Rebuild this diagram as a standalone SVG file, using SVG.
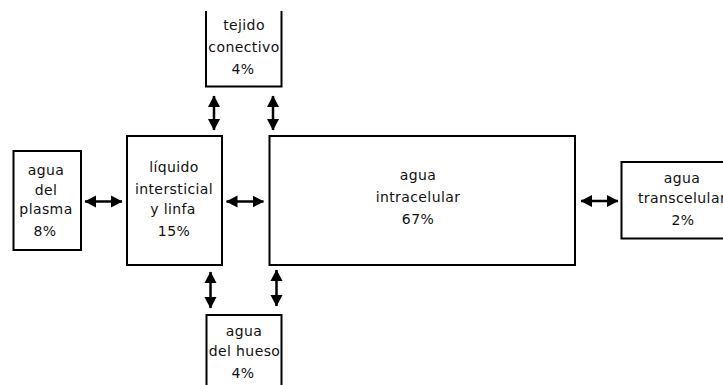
<svg xmlns="http://www.w3.org/2000/svg" width="723" height="385" viewBox="0 0 723 385">
<style>
.box{fill:#fff;stroke:#000;stroke-width:2}
.lbl{font-family:"DejaVu Sans",Verdana,sans-serif;font-size:14px;letter-spacing:0.4px;fill:#111;text-anchor:middle}
.arr{stroke:#000;stroke-width:2.5;fill:none;marker-start:url(#ah);marker-end:url(#ah)}
</style>
<defs>
<marker id="ah" markerUnits="userSpaceOnUse" markerWidth="12" markerHeight="13" viewBox="0 0 12 13" refX="11" refY="6.5" orient="auto-start-reverse">
<path d="M0,0.5 L11.5,6.5 L0,12.5 Z" fill="#000"/>
</marker>
</defs>
<rect width="723" height="385" fill="#fff"/>
<g id="tejido">
<path class="box" d="M206,11 V86.5 H281.5 V11"/>
<text class="lbl" x="244" y="30">tejido</text>
<text class="lbl" x="244" y="52">conectivo</text>
<text class="lbl" x="243" y="74">4%</text>
</g>
<g id="plasma">
<rect class="box" x="13.5" y="151" width="67.5" height="99"/>
<text class="lbl" x="46" y="175">agua</text>
<text class="lbl" x="46" y="195">del</text>
<text class="lbl" x="46" y="214">plasma</text>
<text class="lbl" x="45" y="236">8%</text>
</g>
<g id="liquido">
<rect class="box" x="127" y="136" width="95" height="129"/>
<text class="lbl" x="174" y="172">líquido</text>
<text class="lbl" x="174" y="194">intersticial</text>
<text class="lbl" x="173" y="214">y linfa</text>
<text class="lbl" x="174" y="236">15%</text>
</g>
<g id="intracelular">
<rect class="box" x="269.5" y="136" width="305.5" height="129"/>
<text class="lbl" x="418" y="180">agua</text>
<text class="lbl" x="418" y="202">intracelular</text>
<text class="lbl" x="418" y="224">67%</text>
</g>
<g id="transcelular">
<rect class="box" x="621.5" y="162" width="110" height="76.5"/>
<text class="lbl" x="682" y="183">agua</text>
<text class="lbl" x="682" y="203">transcelular</text>
<text class="lbl" x="683" y="225">2%</text>
</g>
<g id="hueso">
<rect class="box" x="206.5" y="315" width="75" height="80"/>
<text class="lbl" x="244" y="336">agua</text>
<text class="lbl" x="244.5" y="356">del hueso</text>
<text class="lbl" x="243" y="378">4%</text>
</g>
<g id="connectors">
<line class="arr" x1="214" y1="96" x2="214" y2="130"/>
<line class="arr" x1="273" y1="96" x2="273" y2="130"/>
<line class="arr" x1="210.5" y1="272" x2="210.5" y2="308"/>
<line class="arr" x1="276.5" y1="270" x2="276.5" y2="306"/>
<line class="arr" x1="85" y1="201.5" x2="122" y2="201.5"/>
<line class="arr" x1="226.5" y1="201.5" x2="263.5" y2="201.5"/>
<line class="arr" x1="581" y1="201" x2="618" y2="201"/>
</g>
</svg>
